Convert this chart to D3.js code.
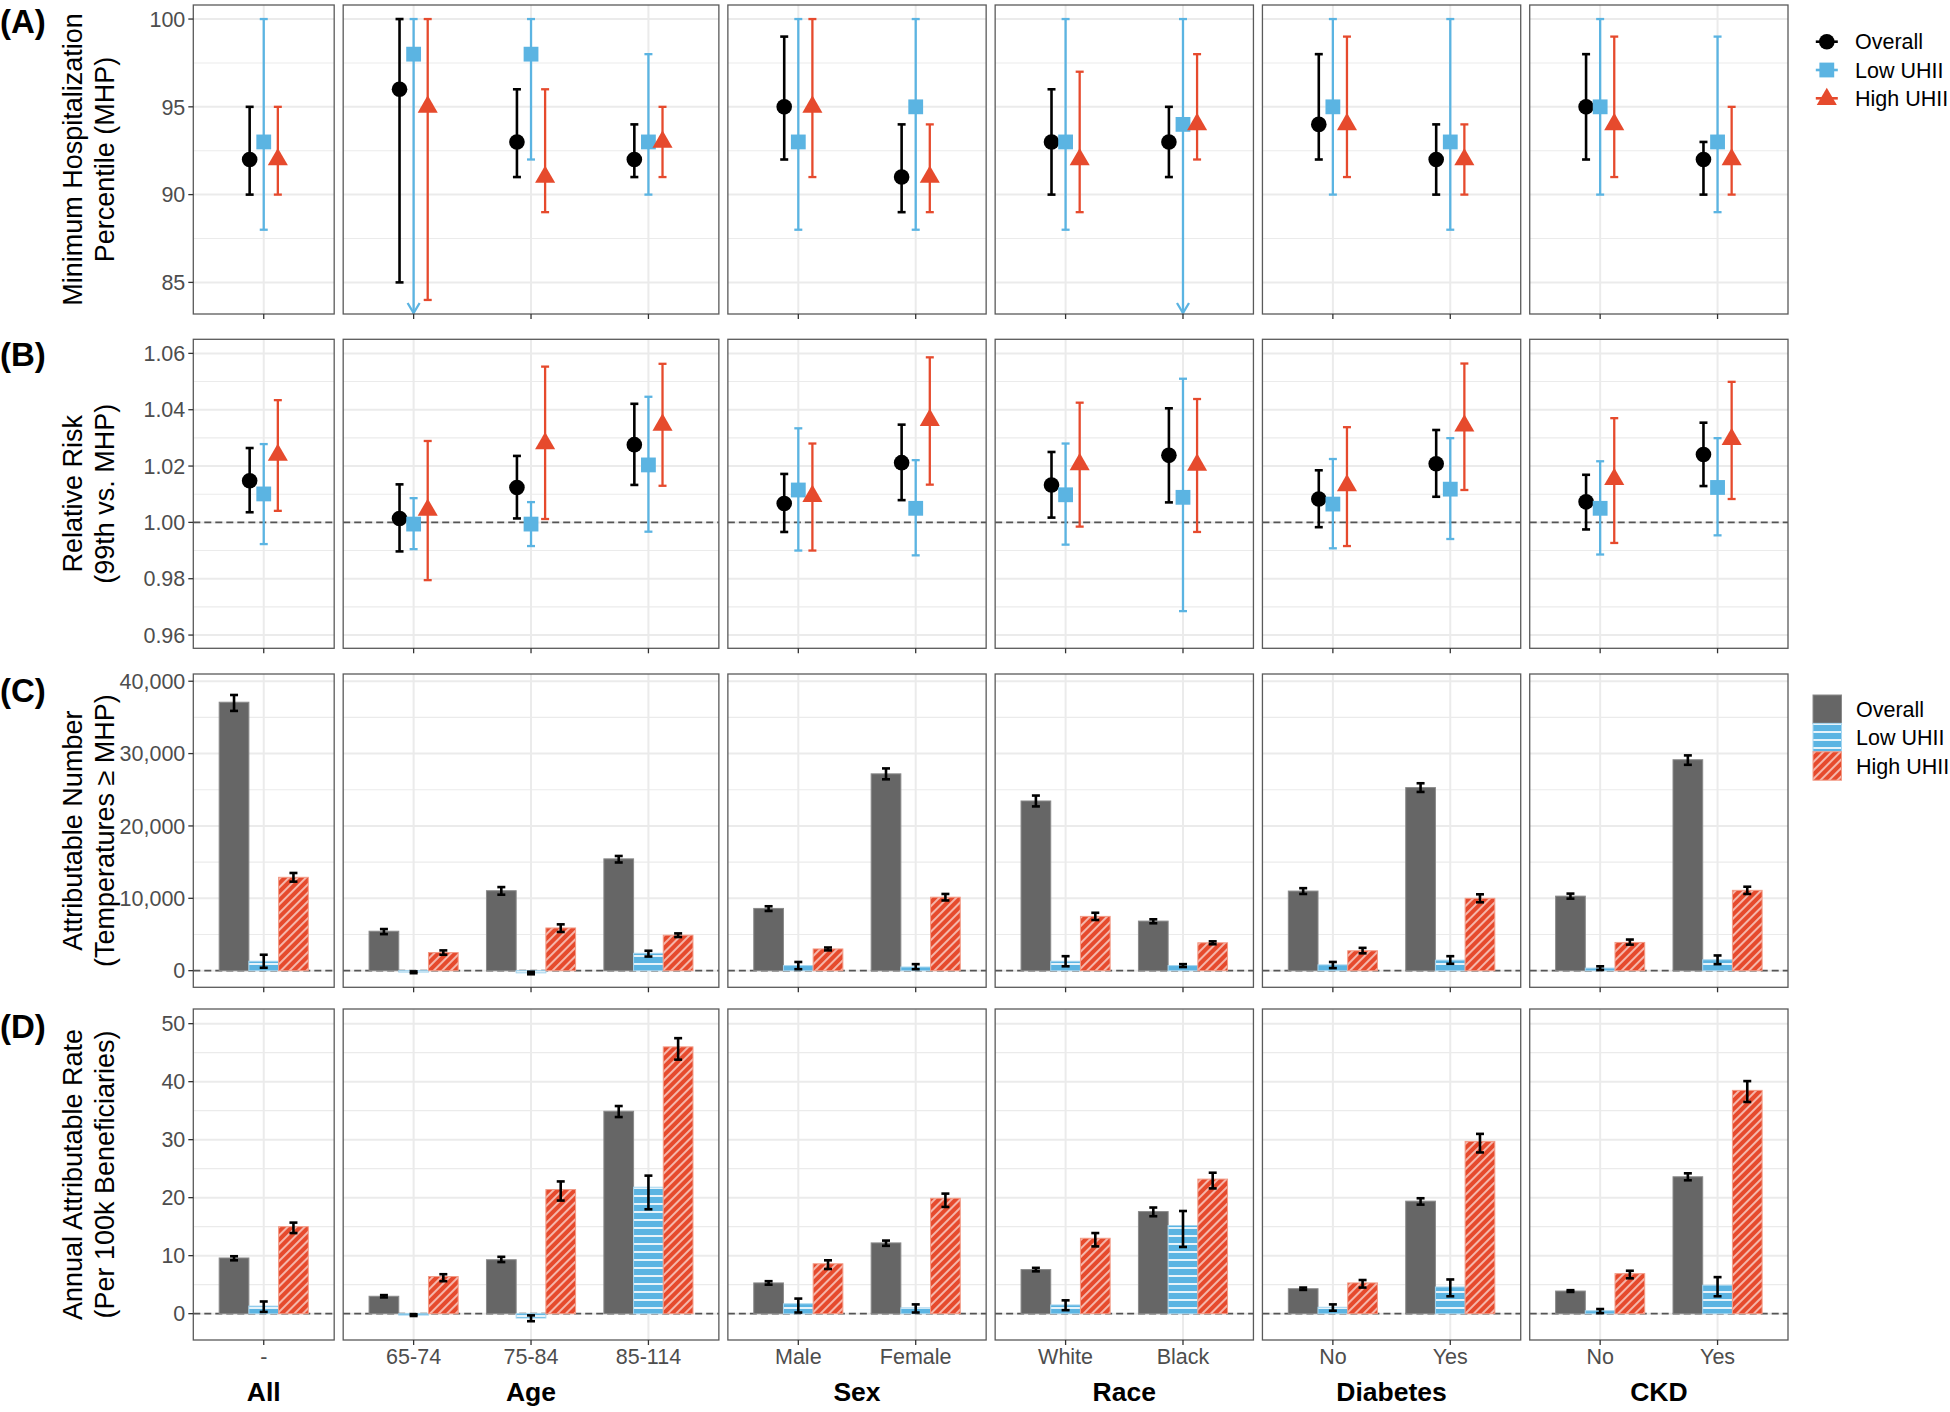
<!DOCTYPE html>
<html><head><meta charset="utf-8">
<script src="https://cdn.jsdelivr.net/npm/d3@7"></script>
<style>
body{margin:0;background:#fff}
svg{display:block}
text{font-family:"Liberation Sans",Arial,Helvetica,sans-serif}
</style>
</head><body>
<svg id="chart" width="1950" height="1412"></svg>
<script>
// ---------------- DATA ----------------
const groups = ["All", "Age", "Sex", "Race", "Diabetes", "CKD"];
const groupCategories = [["-"], ["65-74", "75-84", "85-114"], ["Male", "Female"], ["White", "Black"], ["No", "Yes"], ["No", "Yes"]];
const seriesNames = ["Overall", "Low UHII", "High UHII"];

// (A) Minimum hospitalization percentile (order: All, 65-74, 75-84, 85-114, Male, Female, White, Black, Diab No, Diab Yes, CKD No, CKD Yes)
const mhpOverall   = [92, 96, 93, 92, 95, 91, 93, 93, 94, 92, 95, 92];
const mhpOverallLo = [90, 85, 91, 91, 92, 89, 90, 91, 92, 90, 92, 90];
const mhpOverallHi = [95, 100, 96, 94, 99, 94, 96, 95, 98, 94, 98, 93];
const mhpLow       = [93, 98, 98, 93, 93, 95, 93, 94, 95, 93, 95, 93];
const mhpLowLo     = [88, null, 92, 90, 88, 88, 88, null, 90, 88, 90, 89]; // null = open (arrow)
const mhpLowHi     = [100, 100, 100, 98, 100, 100, 100, 100, 100, 100, 100, 99];
const mhpHigh      = [92, 95, 91, 93, 95, 91, 92, 94, 94, 92, 94, 92];
const mhpHighLo    = [90, 84, 89, 91, 91, 89, 89, 92, 91, 90, 91, 90];
const mhpHighHi    = [95, 100, 96, 95, 100, 94, 97, 98, 99, 94, 99, 95];

// (B) Relative risk
const rrOverall   = [1.0148, 1.0014, 1.0124, 1.0276, 1.0067, 1.0212, 1.0133, 1.0238, 1.0083, 1.0208, 1.0073, 1.0241];
const rrOverallLo = [1.0036, 0.9897, 1.0014, 1.0133, 0.9966, 1.0079, 1.0017, 1.0071, 0.9983, 1.0091, 0.9975, 1.0129];
const rrOverallHi = [1.0264, 1.0135, 1.0236, 1.0421, 1.0172, 1.0347, 1.0250, 1.0405, 1.0185, 1.0328, 1.0169, 1.0354];
const rrLow       = [1.0101, 0.9994, 0.9994, 1.0204, 1.0115, 1.0050, 1.0098, 1.0089, 1.0065, 1.0118, 1.0050, 1.0124];
const rrLowLo     = [0.9923, 0.9905, 0.9916, 0.9967, 0.9900, 0.9883, 0.9921, 0.9685, 0.9908, 0.9941, 0.9886, 0.9954];
const rrLowHi     = [1.0278, 1.0086, 1.0072, 1.0446, 1.0334, 1.0221, 1.0280, 1.0510, 1.0225, 1.0299, 1.0217, 1.0299];
const rrHigh      = [1.0239, 1.0044, 1.0280, 1.0346, 1.0093, 1.0363, 1.0206, 1.0204, 1.0131, 1.0343, 1.0153, 1.0295];
const rrHighLo    = [1.0041, 0.9795, 1.0012, 1.0130, 0.9900, 1.0134, 0.9985, 0.9966, 0.9916, 1.0115, 0.9927, 1.0083];
const rrHighHi    = [1.0434, 1.0289, 1.0553, 1.0563, 1.0280, 1.0586, 1.0425, 1.0438, 1.0338, 1.0564, 1.0370, 1.0499];

// (C) Attributable number
const anOverall   = [37100, 5450, 11050, 15450, 8600, 27200, 23450, 6850, 11000, 25300, 10300, 29150];
const anOverallLo = [35900, 5050, 10500, 14950, 8250, 26450, 22700, 6550, 10600, 24700, 9950, 28450];
const anOverallHi = [38100, 5750, 11550, 15850, 8900, 27950, 24200, 7100, 11400, 25900, 10650, 29750];
const anLow       = [1300, -200, -300, 2400, 700, 500, 1300, 700, 800, 1450, 350, 1500];
const anLowLo     = [400, -350, -500, 1950, 200, 200, 600, 500, 350, 950, 100, 900];
const anLowHi     = [2200, -100, -150, 2750, 1200, 900, 2000, 900, 1200, 2000, 600, 2100];
const anHigh      = [12900, 2500, 5900, 4900, 3000, 10150, 7500, 3850, 2750, 10000, 3900, 11100];
const anHighLo    = [12300, 2200, 5350, 4650, 2800, 9700, 7000, 3650, 2400, 9450, 3600, 10600];
const anHighHi    = [13500, 2800, 6400, 5150, 3200, 10600, 8000, 4050, 3150, 10550, 4300, 11600];

// (D) Annual attributable rate per 100k
const arOverall   = [9.6, 3.0, 9.3, 34.9, 5.3, 12.2, 7.6, 17.6, 4.3, 19.4, 3.9, 23.6];
const arOverallLo = [9.2, 2.8, 8.9, 33.9, 5.0, 11.7, 7.3, 16.8, 4.1, 18.8, 3.75, 23.0];
const arOverallHi = [9.9, 3.2, 9.8, 35.8, 5.6, 12.6, 7.9, 18.3, 4.5, 19.9, 4.05, 24.2];
const arLow       = [1.3, -0.25, -0.75, 21.8, 1.7, 1.0, 1.5, 15.2, 1.1, 4.6, 0.5, 4.9];
const arLowLo     = [0.3, -0.4, -1.3, 18.0, 0.2, 0.2, 0.6, 11.5, 0.5, 3.0, 0.1, 3.0];
const arLowHi     = [2.1, -0.1, -0.3, 23.8, 2.6, 1.6, 2.3, 17.7, 1.6, 5.9, 0.8, 6.3];
const arHigh      = [15.0, 6.4, 21.4, 46.0, 8.6, 19.9, 13.0, 23.2, 5.3, 29.7, 6.9, 38.5];
const arHighLo    = [13.9, 5.6, 19.5, 43.8, 7.7, 18.4, 11.6, 21.6, 4.5, 27.8, 6.1, 36.5];
const arHighHi    = [15.7, 6.8, 22.8, 47.5, 9.2, 20.7, 13.9, 24.3, 5.8, 31.0, 7.4, 40.1];

// Axis tick labels
const ticksA = [85, 90, 95, 100];
const ticksB = [0.96, 0.98, 1.00, 1.02, 1.04, 1.06];
const ticksC = [0, 10000, 20000, 30000, 40000];
const ticksD = [0, 10, 20, 30, 40, 50];

// ---------------- STYLE / LAYOUT ----------------
const colors = {overall: "#000000", bar: "#666666", low: "#5BB4E2", high: "#E64A2D"};
const seriesColors = [colors.overall, colors.low, colors.high];
const svg = d3.select("#chart");
svg.append("rect").attr("width", 1950).attr("height", 1412).attr("fill", "#fff");

const defs = svg.append("defs");
const pLow = defs.append("pattern").attr("id", "lowStripe").attr("patternUnits", "userSpaceOnUse")
  .attr("width", 8).attr("height", 8);
pLow.append("rect").attr("width", 8).attr("height", 8).attr("fill", colors.low);
pLow.append("line").attr("x1", 0).attr("x2", 8).attr("y1", 4).attr("y2", 4).attr("stroke", "#fff").attr("stroke-width", 1.7);
const pHigh = defs.append("pattern").attr("id", "highHatch").attr("patternUnits", "userSpaceOnUse")
  .attr("width", 6).attr("height", 10).attr("patternTransform", "rotate(45)");
pHigh.append("rect").attr("width", 6).attr("height", 10).attr("fill", colors.high);
pHigh.append("line").attr("x1", 3).attr("x2", 3).attr("y1", 0).attr("y2", 10).attr("stroke", "#fff").attr("stroke-width", 1.2);

const plotLeft = 193.3, plotRight = 1788, facetGap = 9;
const totalUnits = d3.sum(groupCategories, c => c.length - 1 + 1.2);
const unit = (plotRight - plotLeft - facetGap * (groups.length - 1)) / totalUnits;
let cursor = plotLeft;
const facets = groups.map((g, i) => {
  const cats = groupCategories[i];
  const w = (cats.length - 1 + 1.2) * unit;
  const f = {group: g, cats, left: cursor, right: cursor + w,
    x: d3.scalePoint().domain(cats).range([cursor, cursor + w]).padding(0.6)};
  cursor += w + facetGap;
  return f;
});
const flat = [];
facets.forEach((f, fi) => f.cats.forEach(c => flat.push({fi, cat: c})));

const rows = [
  {label: "(A)", labelY: 21, top: 5, bottom: 314, domain: [83.2, 100.8], ticks: ticksA, fmt: d3.format("d"),
   title: ["Minimum Hospitalization", "Percentile (MHP)"], type: "point", ref: null,
   est: [mhpOverall, mhpLow, mhpHigh], lo: [mhpOverallLo, mhpLowLo, mhpHighLo], hi: [mhpOverallHi, mhpLowHi, mhpHighHi]},
  {label: "(B)", labelY: 354, top: 339.3, bottom: 648.3, domain: [0.9553, 1.065], ticks: ticksB, fmt: d3.format(".2f"),
   title: ["Relative Risk", "(99th vs. MHP)"], type: "point", ref: 1,
   est: [rrOverall, rrLow, rrHigh], lo: [rrOverallLo, rrLowLo, rrHighLo], hi: [rrOverallHi, rrLowHi, rrHighHi]},
  {label: "(C)", labelY: 690, top: 674, bottom: 987.3, domain: [-2300, 41000], ticks: ticksC, fmt: d3.format(","),
   title: ["Attributable Number", "(Temperatures \u2265 MHP)"], type: "bar", ref: 0,
   est: [anOverall, anLow, anHigh], lo: [anOverallLo, anLowLo, anHighLo], hi: [anOverallHi, anLowHi, anHighHi]},
  {label: "(D)", labelY: 1026, top: 1009, bottom: 1340, domain: [-4.54, 52.53], ticks: ticksD, fmt: d3.format("d"),
   title: ["Annual Attributable Rate", "(Per 100k Beneficiaries)"], type: "bar", ref: 0,
   est: [arOverall, arLow, arHigh], lo: [arOverallLo, arLowLo, arHighLo], hi: [arOverallHi, arLowHi, arHighHi]}
];

const pointOffsets = [-0.12, 0, 0.12];
const barOffsets = [-0.253, 0, 0.253];
const barWidth = 0.253;
const barFills = [colors.bar, "url(#lowStripe)", "url(#highHatch)"];
const barStrokes = ["#8a8a8a", "#a5d5ef", "#f29a85"];

function drawPoint(g, s, cx, cy) {
  if (s === 0) g.append("circle").attr("cx", cx).attr("cy", cy).attr("r", 7.8).attr("fill", colors.overall);
  else if (s === 1) g.append("rect").attr("x", cx - 7.4).attr("y", cy - 7.4).attr("width", 14.8).attr("height", 14.8).attr("fill", colors.low);
  else {
    const r = 11.6, xc = r * Math.sqrt(3) / 2;
    g.append("path").attr("d", `M${cx},${cy - r}L${cx + xc},${cy + r / 2}L${cx - xc},${cy + r / 2}Z`).attr("fill", colors.high);
  }
}

rows.forEach(row => {
  const y = d3.scaleLinear().domain(row.domain).range([row.bottom, row.top]);
  const minor = [];
  for (let i = 0; i < row.ticks.length - 1; i++) minor.push((row.ticks[i] + row.ticks[i + 1]) / 2);
  const step = row.ticks[1] - row.ticks[0];
  minor.push(row.ticks[0] - step / 2, row.ticks[row.ticks.length - 1] + step / 2);
  const minorIn = minor.filter(v => v > row.domain[0] && v < row.domain[1]);

  facets.forEach((f, fi) => {
    const g = svg.append("g");
    g.selectAll(null).data(minorIn).join("line")
      .attr("x1", f.left).attr("x2", f.right).attr("y1", d => y(d)).attr("y2", d => y(d))
      .attr("stroke", "#EBEBEB").attr("stroke-width", 1.1);
    g.selectAll(null).data(row.ticks).join("line")
      .attr("x1", f.left).attr("x2", f.right).attr("y1", d => y(d)).attr("y2", d => y(d))
      .attr("stroke", "#EBEBEB").attr("stroke-width", 2);
    g.selectAll(null).data(f.cats).join("line")
      .attr("x1", d => f.x(d)).attr("x2", d => f.x(d)).attr("y1", row.top).attr("y2", row.bottom)
      .attr("stroke", "#EBEBEB").attr("stroke-width", 2);
    if (row.ref !== null) {
      g.append("line").attr("x1", f.left).attr("x2", f.right).attr("y1", y(row.ref)).attr("y2", y(row.ref))
        .attr("stroke", "#555").attr("stroke-width", 1.6).attr("stroke-dasharray", "7,4");
    }
    flat.forEach((item, k) => {
      if (item.fi !== fi) return;
      const cx0 = f.x(item.cat);
      if (row.type === "bar") {
        for (let s = 0; s < 3; s++) {
          const est = row.est[s][k];
          const cx = cx0 + barOffsets[s] * unit, w = barWidth * unit;
          g.append("rect").attr("x", cx - w / 2).attr("width", w)
            .attr("y", Math.min(y(0), y(est))).attr("height", Math.abs(y(0) - y(est)))
            .attr("fill", barFills[s]).attr("stroke", barStrokes[s]).attr("stroke-width", 1);
        }
      }
      for (let s = 0; s < 3; s++) {
        const est = row.est[s][k], lo = row.lo[s][k], hi = row.hi[s][k];
        const off = row.type === "bar" ? barOffsets[s] : pointOffsets[s];
        const cx = cx0 + off * unit;
        const col = row.type === "bar" ? "#000" : seriesColors[s];
        const sw = row.type === "bar" ? 2.6 : (s === 0 ? 2.6 : 2.3);
        const yLo = lo === null ? row.bottom : y(lo);
        g.append("line").attr("x1", cx).attr("x2", cx).attr("y1", y(hi)).attr("y2", yLo)
          .attr("stroke", col).attr("stroke-width", sw);
        g.append("line").attr("x1", cx - 4).attr("x2", cx + 4).attr("y1", y(hi)).attr("y2", y(hi))
          .attr("stroke", col).attr("stroke-width", sw);
        if (lo === null) {
          g.append("path").attr("d", `M${cx - 6},${row.bottom - 11}L${cx},${row.bottom - 1}L${cx + 6},${row.bottom - 11}`)
            .attr("fill", "none").attr("stroke", col).attr("stroke-width", sw);
        } else {
          g.append("line").attr("x1", cx - 4).attr("x2", cx + 4).attr("y1", y(lo)).attr("y2", y(lo))
            .attr("stroke", col).attr("stroke-width", sw);
        }
        if (row.type === "point") drawPoint(g, s, cx, y(est));
      }
    });
    g.append("rect").attr("x", f.left).attr("y", row.top).attr("width", f.right - f.left).attr("height", row.bottom - row.top)
      .attr("fill", "none").attr("stroke", "#5a5a5a").attr("stroke-width", 1.3);
    g.selectAll(null).data(f.cats).join("line")
      .attr("x1", d => f.x(d)).attr("x2", d => f.x(d)).attr("y1", row.bottom).attr("y2", row.bottom + 5)
      .attr("stroke", "#333").attr("stroke-width", 1.3);
  });

  const ax = svg.append("g");
  ax.selectAll(null).data(row.ticks).join("line")
    .attr("x1", plotLeft - 5).attr("x2", plotLeft).attr("y1", d => y(d)).attr("y2", d => y(d))
    .attr("stroke", "#333").attr("stroke-width", 1.3);
  ax.selectAll(null).data(row.ticks).join("text")
    .attr("x", plotLeft - 8).attr("y", d => y(d)).attr("dy", "0.36em")
    .attr("text-anchor", "end").attr("font-size", 21.5).attr("fill", "#4D4D4D")
    .text(d => row.fmt(d));
  const cy = (row.top + row.bottom) / 2;
  [72, 104].forEach((tx, i) => {
    svg.append("text").attr("transform", `translate(${tx},${cy}) rotate(-90)`)
      .attr("text-anchor", "middle").attr("dy", "0.36em").attr("font-size", 27).attr("fill", "#000")
      .text(row.title[i]);
  });
  svg.append("text").attr("x", 0).attr("y", row.labelY).attr("dy", "0.36em")
    .attr("font-size", 33).attr("font-weight", "bold").text(row.label);
});

facets.forEach(f => {
  svg.selectAll(null).data(f.cats).join("text")
    .attr("x", d => f.x(d)).attr("y", 1363.5).attr("text-anchor", "middle")
    .attr("font-size", 21.5).attr("fill", "#4D4D4D").text(d => d);
  svg.append("text").attr("x", (f.left + f.right) / 2).attr("y", 1400.5).attr("text-anchor", "middle")
    .attr("font-size", 26.5).attr("font-weight", "bold").text(f.group);
});

const lg1 = svg.append("g");
seriesNames.forEach((name, s) => {
  const ly = 41.7 + s * 28.3, lx = 1826.8;
  lg1.append("line").attr("x1", lx - 11).attr("x2", lx + 11).attr("y1", ly).attr("y2", ly)
    .attr("stroke", seriesColors[s]).attr("stroke-width", 2.6);
  drawPoint(lg1, s, lx, ly + (s === 2 ? 1 : 0));
  lg1.append("text").attr("x", 1855).attr("y", ly).attr("dy", "0.36em").attr("font-size", 21.5).text(name);
});
const lg2 = svg.append("g");
seriesNames.forEach((name, s) => {
  const ky = 695 + s * 28.4;
  lg2.append("rect").attr("x", 1813).attr("y", ky).attr("width", 28.5).attr("height", 28.4)
    .attr("fill", barFills[s]).attr("stroke", barStrokes[s]).attr("stroke-width", 1);
  lg2.append("text").attr("x", 1856).attr("y", ky + 14.2).attr("dy", "0.36em").attr("font-size", 21.5).text(name);
});
</script>
</body></html>
